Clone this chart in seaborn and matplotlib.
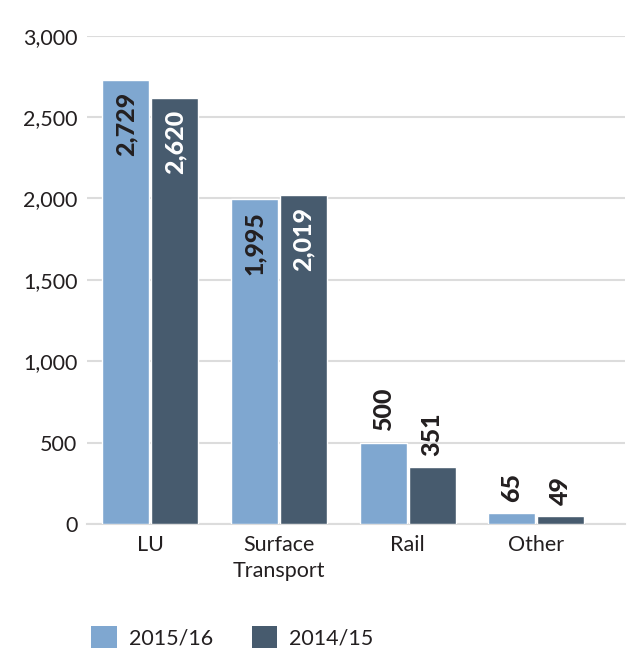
import matplotlib
matplotlib.use("Agg")
import matplotlib.pyplot as plt
import seaborn as sns
import pandas as pd
from matplotlib.patches import Patch

categories = ["LU", "Surface\nTransport", "Rail", "Other"]
series_names = ["2015/16", "2014/15"]
values_2015_16 = [2729, 1995, 500, 65]
values_2014_15 = [2620, 2019, 351, 49]
label_inside = [True, True, False, False]
y_ticks = [0, 500, 1000, 1500, 2000, 2500, 3000]

light = "#7FA7D0"
dark = "#475B6E"
text_c = "#231F20"
grid_c = "#DCDCDC"

df = pd.DataFrame({
    "category": categories * 2,
    "year": [series_names[0]] * len(categories) + [series_names[1]] * len(categories),
    "value": values_2015_16 + values_2014_15,
})

sns.set_theme(style="white")
plt.rcParams["font.family"] = ["Lato", "DejaVu Sans"]

fig = plt.figure(figsize=(6.27, 6.5), dpi=100)
ax = fig.add_axes([0.139, 0.194, 0.858, 0.751])

sns.barplot(data=df, x="category", y="value", hue="year", order=categories,
            hue_order=series_names, palette=[light, dark], width=0.76, gap=0.04,
            saturation=1, ax=ax, legend=False, zorder=3)

ax.set_ylim(0, 3000)
ax.set_xlim(-0.49, 3.69)
ax.set_yticks(y_ticks)
ax.set_yticklabels([f"{t:,}" for t in y_ticks])
ax.yaxis.grid(True, color=grid_c, linewidth=1.5, zorder=0)
ax.set_axisbelow(True)
for s in ["top", "right", "left"]:
    ax.spines[s].set_visible(False)
ax.spines["bottom"].set_color(grid_c)
ax.spines["bottom"].set_linewidth(1.5)
ax.tick_params(axis="y", length=0, labelsize=15.5, colors=text_c, pad=7)
ax.tick_params(axis="x", length=0, labelsize=15.5, colors=text_c, pad=8)
for t in ax.get_xticklabels():
    t.set_linespacing(1.35)
ax.set_xlabel("")
ax.set_ylabel("")

for ci, cont in enumerate(ax.containers):
    for j, bar in enumerate(cont):
        h = bar.get_height()
        xc = bar.get_x() + bar.get_width() / 2
        if label_inside[j]:
            col = text_c if ci == 0 else "white"
            ax.annotate(f"{int(h):,}", xy=(xc, h), xytext=(0, -8.5),
                        textcoords="offset points", rotation=90, ha="center",
                        va="top", fontsize=18, fontweight=900, color=col, zorder=5)
        else:
            ax.annotate(f"{int(h):,}", xy=(xc, h), xytext=(0, 8),
                        textcoords="offset points", rotation=90, ha="center",
                        va="bottom", fontsize=18, fontweight=900, color=text_c, zorder=5)

handles = [Patch(facecolor=light, edgecolor="none"), Patch(facecolor=dark, edgecolor="none")]
fig.legend(handles, series_names, loc="center left", bbox_to_anchor=(0.128, 0.02),
           ncol=2, frameon=False, fontsize=15.5, handlelength=1.2, handleheight=1.2,
           handletextpad=0.55, columnspacing=1.8, borderpad=0, labelcolor=text_c)

fig.savefig("out.png", dpi=100)
